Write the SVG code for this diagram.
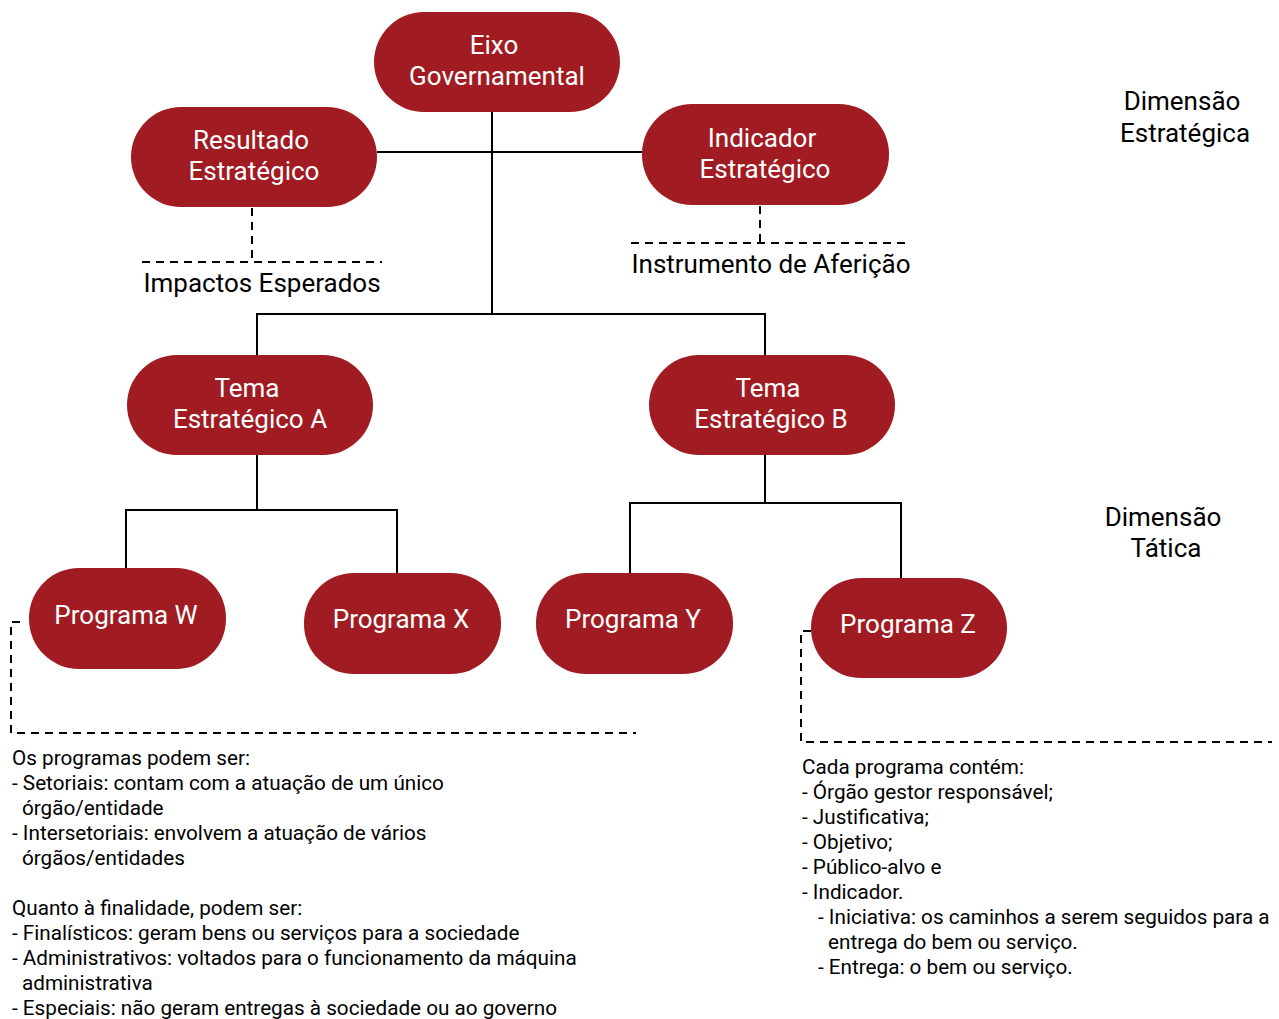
<svg xmlns="http://www.w3.org/2000/svg" width="1279" height="1019" viewBox="0 0 1279 1019">
  <style>
    .node rect { fill: #a01c22; }
    .node text { fill: #ffffff; font-family: Roboto, "Liberation Sans", sans-serif; font-size: 26px; text-anchor: middle; }
    .link { stroke: #000; stroke-width: 2; fill: none; }
    .dash { stroke: #000; stroke-width: 2; fill: none; stroke-dasharray: 8 6; }
    .lbl { fill: #000; font-family: Roboto, "Liberation Sans", sans-serif; font-size: 26px; }
    .note { fill: #000; font-family: Roboto, "Liberation Sans", sans-serif; font-size: 20.7px; }
  </style>
  <rect width="1279" height="1019" fill="#fff"/>

  <!-- connectors -->
  <g id="connectors">
    <path class="link" d="M492 112 V313"/>
    <path class="link" d="M377 152 H642"/>
    <path class="link" d="M257 355 V314 H765 V355"/>
    <path class="link" d="M257 455 V510"/>
    <path class="link" d="M126 568 V510 H397 V573"/>
    <path class="link" d="M765 455 V503"/>
    <path class="link" d="M630 573 V503 H901 V578"/>
    <path class="dash" d="M252 208 V262"/>
    <path class="dash" d="M142 262 H382"/>
    <path class="dash" d="M760 206 V243"/>
    <path class="dash" d="M631 243 H906"/>
    <path class="dash" d="M20 622 H11 V733 H636"/>
    <path class="dash" d="M811 631 H801 V742 H1272"/>
  </g>

  <g id="eixo" class="node">
    <rect x="374" y="12" width="246" height="100" rx="50"/>
    <text x="494" y="54">Eixo</text>
    <text x="497" y="85">Governamental</text>
  </g>
  <g id="resultado" class="node">
    <rect x="131" y="107" width="246" height="100" rx="50"/>
    <text x="251" y="149">Resultado</text>
    <text x="254" y="180">Estratégico</text>
  </g>
  <g id="indicador" class="node">
    <rect x="642" y="104" width="247" height="101" rx="50"/>
    <text x="762" y="147">Indicador</text>
    <text x="765" y="178">Estratégico</text>
  </g>
  <g id="tema-a" class="node">
    <rect x="127" y="355" width="246" height="100" rx="50"/>
    <text x="247" y="397">Tema</text>
    <text x="250" y="428">Estratégico A</text>
  </g>
  <g id="tema-b" class="node">
    <rect x="649" y="355" width="246" height="100" rx="50"/>
    <text x="768" y="397">Tema</text>
    <text x="771" y="428">Estratégico B</text>
  </g>
  <g id="programa-w" class="node">
    <rect x="29" y="568" width="197" height="101" rx="50"/>
    <text x="126" y="624">Programa W</text>
  </g>
  <g id="programa-x" class="node">
    <rect x="304" y="573" width="197" height="101" rx="50"/>
    <text x="401" y="628">Programa X</text>
  </g>
  <g id="programa-y" class="node">
    <rect x="536" y="573" width="197" height="101" rx="50"/>
    <text x="633" y="628">Programa Y</text>
  </g>
  <g id="programa-z" class="node">
    <rect x="811" y="578" width="196" height="100" rx="50"/>
    <text x="908" y="633">Programa Z</text>
  </g>

  <!-- side labels -->
  <text class="lbl" x="262" y="292" text-anchor="middle">Impactos Esperados</text>
  <text class="lbl" x="771" y="273" text-anchor="middle">Instrumento de Aferição</text>
  <text class="lbl" x="1182" y="110" text-anchor="middle">Dimensão</text>
  <text class="lbl" x="1185" y="142" text-anchor="middle">Estratégica</text>
  <text class="lbl" x="1163" y="526" text-anchor="middle">Dimensão</text>
  <text class="lbl" x="1166" y="557" text-anchor="middle">Tática</text>

  <!-- notes -->
  <g class="note">
    <text x="12" y="765">Os programas podem ser:</text>
    <text x="12" y="790">- Setoriais: contam com a atuação de um único</text>
    <text x="22" y="815">órgão/entidade</text>
    <text x="12" y="840">- Intersetoriais: envolvem a atuação de vários</text>
    <text x="22" y="865">órgãos/entidades</text>
    <text x="12" y="915">Quanto à finalidade, podem ser:</text>
    <text x="12" y="940">- Finalísticos: geram bens ou serviços para a sociedade</text>
    <text x="12" y="965">- Administrativos: voltados para o funcionamento da máquina</text>
    <text x="22" y="990">administrativa</text>
    <text x="12" y="1015">- Especiais: não geram entregas à sociedade ou ao governo</text>
  </g>
  <g class="note">
    <text x="802" y="774">Cada programa contém:</text>
    <text x="802" y="799">- Órgão gestor responsável;</text>
    <text x="802" y="824">- Justificativa;</text>
    <text x="802" y="849">- Objetivo;</text>
    <text x="802" y="874">- Público-alvo e</text>
    <text x="802" y="899">- Indicador.</text>
    <text x="818" y="924">- Iniciativa: os caminhos a serem seguidos para a</text>
    <text x="828" y="949">entrega do bem ou serviço.</text>
    <text x="818" y="974">- Entrega: o bem ou serviço.</text>
  </g>
</svg>
